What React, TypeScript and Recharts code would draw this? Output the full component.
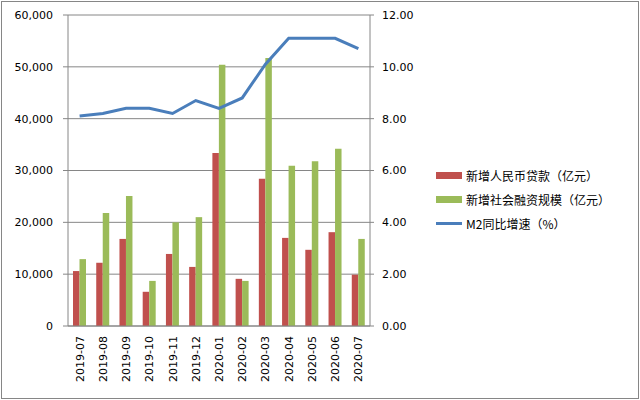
import {
  ComposedChart,
  Bar,
  Line,
  XAxis,
  YAxis,
  CartesianGrid,
  Legend,
} from 'recharts';

// values
const months = [
  '2019-07', '2019-08', '2019-09', '2019-10', '2019-11', '2019-12',
  '2020-01', '2020-02', '2020-03', '2020-04', '2020-05', '2020-06', '2020-07',
];
const loans = [10600, 12200, 16800, 6600, 13900, 11400, 33400, 9100, 28400, 17000, 14700, 18100, 9900];
const financing = [12900, 21800, 25100, 8700, 20000, 21000, 50400, 8700, 51700, 30900, 31800, 34200, 16800];
const m2Growth = [8.1, 8.2, 8.4, 8.4, 8.2, 8.7, 8.4, 8.8, 10.1, 11.1, 11.1, 11.1, 10.7];

const leftTicks = [0, 10000, 20000, 30000, 40000, 50000, 60000];
const rightTicks = [0, 2, 4, 6, 8, 10, 12];
const edgeTicks = months.map((_, i) => i).concat(months.length);

const seriesNames = ['新增人民币贷款（亿元）', '新增社会融资规模（亿元）', 'M2同比增速（%）'];

const data = months.map((month, i) => ({
  month,
  loans: loans[i],
  financing: financing[i],
  m2: m2Growth[i],
}));

const GRAY = '#868686';
const RED = '#C0504D';
const GREEN = '#9BBB59';
const BLUE = '#4A7EBB';
const AXIS_FONT = 'DejaVu Sans, Verdana, sans-serif';

const MonthTick = ({ x, y, payload }: any) => (
  <g transform={`translate(${x},${y})`}>
    <text
      transform="rotate(-90)"
      x={0}
      y={0}
      dy="0.36em"
      textAnchor="end"
      fontSize={11}
      fontFamily={AXIS_FONT}
      fill="#000"
    >
      {payload.value}
    </text>
  </g>
);

const LegendBox = () => (
  <div style={{ fontFamily: '"Noto Sans CJK SC", sans-serif', fontSize: 12, color: '#000' }}>
    {seriesNames.map((name, i) => (
      <div key={name} style={{ display: 'flex', alignItems: 'center', height: 24 }}>
        <span
          style={{
            display: 'inline-block',
            width: 26,
            height: i === 2 ? 3 : 7,
            background: [RED, GREEN, BLUE][i],
            marginRight: 4,
          }}
        />
        <span>{name}</span>
      </div>
    ))}
  </div>
);

export default function App() {
  return (
    <div style={{ position: 'relative', width: 640, height: 400 }}>
      <style>{`body { margin: 0; }`}</style>
      <div
        style={{
          position: 'absolute',
          left: 1,
          top: 1,
          width: 638,
          height: 398,
          boxSizing: 'border-box',
          border: `1px solid ${GRAY}`,
        }}
      />
      <div style={{ position: 'absolute', left: 0, top: 0 }}>
        <ComposedChart
          width={640}
          height={400}
          data={data}
          margin={{ top: 15, right: 220, bottom: 0, left: 0 }}
          barGap={0}
        >
          <CartesianGrid vertical={false} stroke={GRAY} yAxisId="left" />
          <XAxis
            xAxisId="edge"
            type="number"
            domain={[0, months.length]}
            ticks={edgeTicks}
            tick={false}
            tickSize={5}
            tickLine={{ stroke: GRAY }}
            axisLine={false}
            height={0}
          />
          <XAxis
            dataKey="month"
            interval={0}
            tickLine={false}
            tickSize={6}
            tickMargin={4}
            axisLine={{ stroke: GRAY }}
            height={74}
            tick={<MonthTick />}
          />
          <YAxis
            yAxisId="left"
            width={68}
            domain={[0, 60000]}
            ticks={leftTicks}
            tickSize={5}
            tickMargin={10}
            tickLine={{ stroke: GRAY }}
            axisLine={{ stroke: GRAY }}
            tick={{ fontSize: 11, fill: '#000', fontFamily: AXIS_FONT }}
            tickFormatter={(v: number) => v.toLocaleString('en-US')}
          />
          <YAxis
            yAxisId="right"
            orientation="right"
            width={50}
            domain={[0, 12]}
            ticks={rightTicks}
            tickSize={4}
            tickMargin={8}
            tickLine={{ stroke: GRAY }}
            axisLine={{ stroke: GRAY }}
            tick={{ fontSize: 11, fill: '#000', fontFamily: AXIS_FONT, textAnchor: 'start' }}
            tickFormatter={(v: number) => v.toFixed(2)}
          />
          <Bar yAxisId="left" dataKey="loans" name={seriesNames[0]} fill={RED} barSize={6.5} isAnimationActive={false} />
          <Bar yAxisId="left" dataKey="financing" name={seriesNames[1]} fill={GREEN} barSize={6.5} isAnimationActive={false} />
          <Line
            yAxisId="right"
            dataKey="m2"
            name={seriesNames[2]}
            type="linear"
            stroke={BLUE}
            strokeWidth={3}
            dot={false}
            activeDot={false}
            isAnimationActive={false}
          />
          <Legend
            layout="horizontal"
            verticalAlign="middle"
            align="center"
            content={<LegendBox />}
            wrapperStyle={{ left: 436, top: 163, width: 'auto' }}
          />
        </ComposedChart>
      </div>
    </div>
  );
}
